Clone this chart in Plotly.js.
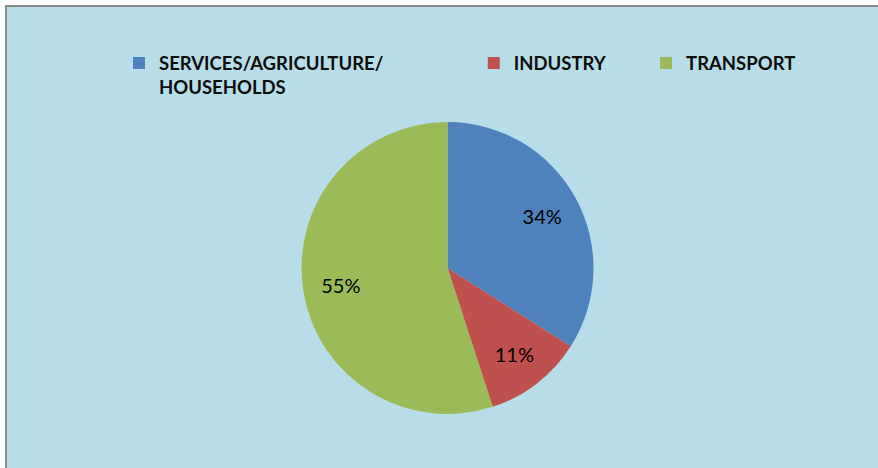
<!DOCTYPE html>
<html>
<head>
<meta charset="utf-8">
<script src="https://cdn.plot.ly/plotly-3.0.1.min.js"></script>
<style>
  html, body { margin: 0; padding: 0; background: #ffffff; }
  #frame {
    position: absolute; left: 5px; top: 5px;
    border-left: 2px solid #8a8a8a; border-top: 2px solid #8a8a8a;
    width: 871px; height: 461px; background: #b7dee8;
  }
  #chart { width: 871px; height: 461px; }
</style>
</head>
<body>
<div id="frame"><div id="chart"></div></div>
<script>
// ---- data ----
var categories = ['SERVICES/AGRICULTURE/HOUSEHOLDS', 'INDUSTRY', 'TRANSPORT'];
var shares = [34, 11, 55];
var sliceColors = ['#4f81bd', '#c0504d', '#9bbb59'];

// legend labels: break the long name, pad with no-break spaces so the
// legend entries sit where they do in the reference
var legendSize = 18.5;
var legendFont = 'bold ' + legendSize + 'px Lato';
var targetWidths = [311, 131, 0];
function padTo(text, px) {
  var ctx = document.createElement('canvas').getContext('2d');
  ctx.font = legendFont;
  var s = text;
  while (ctx.measureText(s + '\u00a0').width <= px) s += '\u00a0';
  return s;
}
var displayLabels = categories.map(function (c, i) {
  var parts = c === categories[0] ? ['SERVICES/AGRICULTURE/', 'HOUSEHOLDS'] : [c];
  parts[0] = padTo(parts[0], targetWidths[i]);
  return parts.join('<br>');
});

var dom = { x: [0.3381, 0.6734], y: [0.1171, 0.7505] };

var pieTrace = {
  type: 'pie',
  labels: displayLabels,
  values: shares,
  customdata: categories,
  sort: false,
  direction: 'clockwise',
  rotation: 0,
  domain: dom,
  marker: { colors: sliceColors, line: { width: 0 } },
  textinfo: 'none',
  hovertemplate: '%{customdata}: %{percent:.0%}<extra></extra>'
};

// text-only ring on top, so that the percentages sit out toward the rim
var labelTrace = {
  type: 'pie',
  labels: displayLabels,
  values: shares,
  sort: false,
  direction: 'clockwise',
  rotation: 0,
  domain: dom,
  hole: 0.48,
  showlegend: false,
  hoverinfo: 'skip',
  marker: { colors: ['rgba(0,0,0,0)', 'rgba(0,0,0,0)', 'rgba(0,0,0,0)'], line: { width: 0 } },
  texttemplate: '%{percent:.0%}',
  textposition: 'inside',
  insidetextorientation: 'horizontal',
  textfont: { family: 'Lato', size: 20, color: '#000000' }
};

var layout = {
  width: 871, height: 461,
  margin: { l: 0, r: 0, t: 0, b: 0 },
  paper_bgcolor: '#b7dee8',
  plot_bgcolor: '#b7dee8',
  showlegend: true,
  legend: {
    orientation: 'h',
    x: 0.1286, xanchor: 'left',
    y: 0.9185, yanchor: 'top',
    valign: 'top',
    bgcolor: 'rgba(0,0,0,0)',
    font: { family: 'Lato', size: legendSize, color: '#0d0d0d', weight: 'bold' }
  }
};

Plotly.newPlot('chart', [pieTrace, labelTrace], layout, { displayModeBar: false });
</script>
</body>
</html>
